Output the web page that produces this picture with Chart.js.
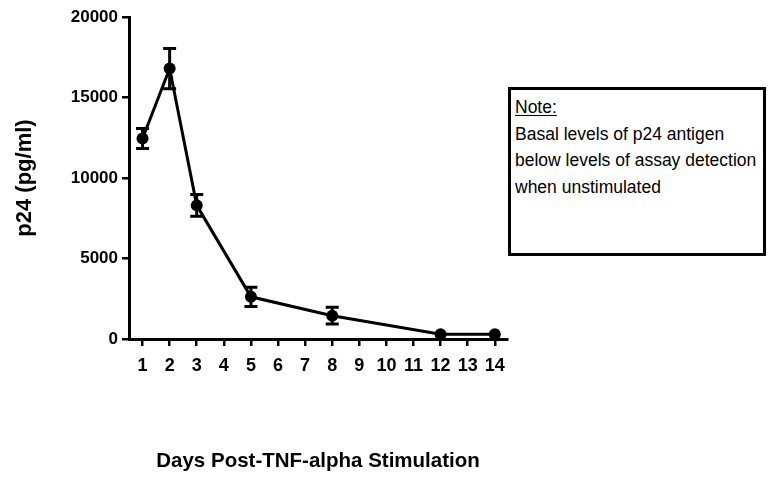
<!DOCTYPE html>
<html>
<head>
<meta charset="utf-8">
<script src="https://cdn.jsdelivr.net/npm/chart.js@4/dist/chart.umd.min.js"></script>
<style>
  html, body { margin: 0; padding: 0; background: #fff; }
  #wrap { position: relative; width: 769px; height: 480px; }
  #note {
    position: absolute; left: 508px; top: 87px; width: 258px; height: 169px;
    box-sizing: border-box; border: 3px solid #000; background: #fff;
    padding: 4px 0 0 4px; white-space: nowrap; overflow: hidden;
    font-family: "Liberation Sans", Arial, sans-serif; font-size: 17.5px; line-height: 26.5px; color: #000;
  }
  #note u { text-decoration-thickness: 1px; text-underline-offset: 2px; }
</style>
</head>
<body>
<div id="wrap">
  <canvas id="myChart" width="769" height="480"></canvas>
  <div id="note"><u>Note:</u><br>Basal levels of p24 antigen<br>below levels of assay detection<br>when unstimulated</div>
</div>
<script>
const days = [1, 2, 3, 5, 8, 12, 14];
const p24 = [12450, 16800, 8300, 2620, 1450, 300, 300];
const p24Err = [620, 1250, 670, 600, 520, 0, 0];
const dayTicks = [1, 2, 3, 4, 5, 6, 7, 8, 9, 10, 11, 12, 13, 14];
const yTicks = [0, 5000, 10000, 15000, 20000];

// vertical error bars with caps, placed through the chart's own scales
const errorBars = {
  id: 'errorBars',
  afterDatasetsDraw(chart) {
    const ctx = chart.ctx;
    const xs = chart.scales.x;
    const ys = chart.scales.y;
    ctx.save();
    ctx.strokeStyle = '#000';
    ctx.lineWidth = 3;
    days.forEach((d, i) => {
      if (!p24Err[i]) return;
      const x = xs.getPixelForValue(d);
      const top = ys.getPixelForValue(p24[i] + p24Err[i]);
      const bot = ys.getPixelForValue(p24[i] - p24Err[i]);
      ctx.beginPath();
      ctx.moveTo(x, top);
      ctx.lineTo(x, bot);
      ctx.moveTo(x - 6.5, top);
      ctx.lineTo(x + 6.5, top);
      ctx.moveTo(x - 6.5, bot);
      ctx.lineTo(x + 6.5, bot);
      ctx.stroke();
    });
    ctx.restore();
  }
};

const font = { family: '"Liberation Sans", Arial, sans-serif', weight: 'bold' };

new Chart(document.getElementById('myChart').getContext('2d'), {
  type: 'line',
  data: {
    datasets: [{
      label: 'p24',
      data: days.map((d, i) => ({ x: d, y: p24[i] })),
      borderColor: '#000',
      backgroundColor: '#000',
      borderWidth: 3,
      pointRadius: 6,
      pointBorderWidth: 0,
      fill: false,
      tension: 0
    }]
  },
  options: {
    responsive: false,
    animation: false,
    layout: { padding: { top: 17, right: 262, left: 0, bottom: 0 } },
    plugins: { legend: { display: false }, tooltip: { enabled: false } },
    scales: {
      x: {
        type: 'linear',
        min: 0.5,
        max: 14.45,
        afterBuildTicks(scale) { scale.ticks = dayTicks.map(v => ({ value: v })); },
        afterFit(scale) { scale.height = 141; },
        border: { display: true, color: '#000', width: 3 },
        grid: { drawOnChartArea: false, drawTicks: true, tickLength: 7, color: '#000', lineWidth: 2.5 },
        ticks: { color: '#000', padding: 9, font: { ...font, size: 18 }, maxRotation: 0, autoSkip: false,
          callback: v => String(v) },
        title: {
          display: true,
          text: 'Days Post-TNF-alpha Stimulation',
          color: '#000',
          font: { ...font, size: 20.5 },
          padding: { top: 0, bottom: 6 }
        }
      },
      y: {
        min: 0,
        max: 20000,
        afterBuildTicks(scale) { scale.ticks = yTicks.map(v => ({ value: v })); },
        afterFit(scale) { scale.width = 129; },
        border: { display: true, color: '#000', width: 3 },
        grid: { drawOnChartArea: false, drawTicks: true, tickLength: 7, color: '#000', lineWidth: 2.5 },
        ticks: { color: '#000', padding: 4, font: { ...font, size: 17 },
          callback: v => String(v) },
        title: {
          display: true,
          text: 'p24 (pg/ml)',
          color: '#000',
          font: { ...font, size: 22 },
          padding: { top: 12, bottom: 0 }
        }
      }
    }
  },
  plugins: [errorBars]
});
</script>
</body>
</html>
